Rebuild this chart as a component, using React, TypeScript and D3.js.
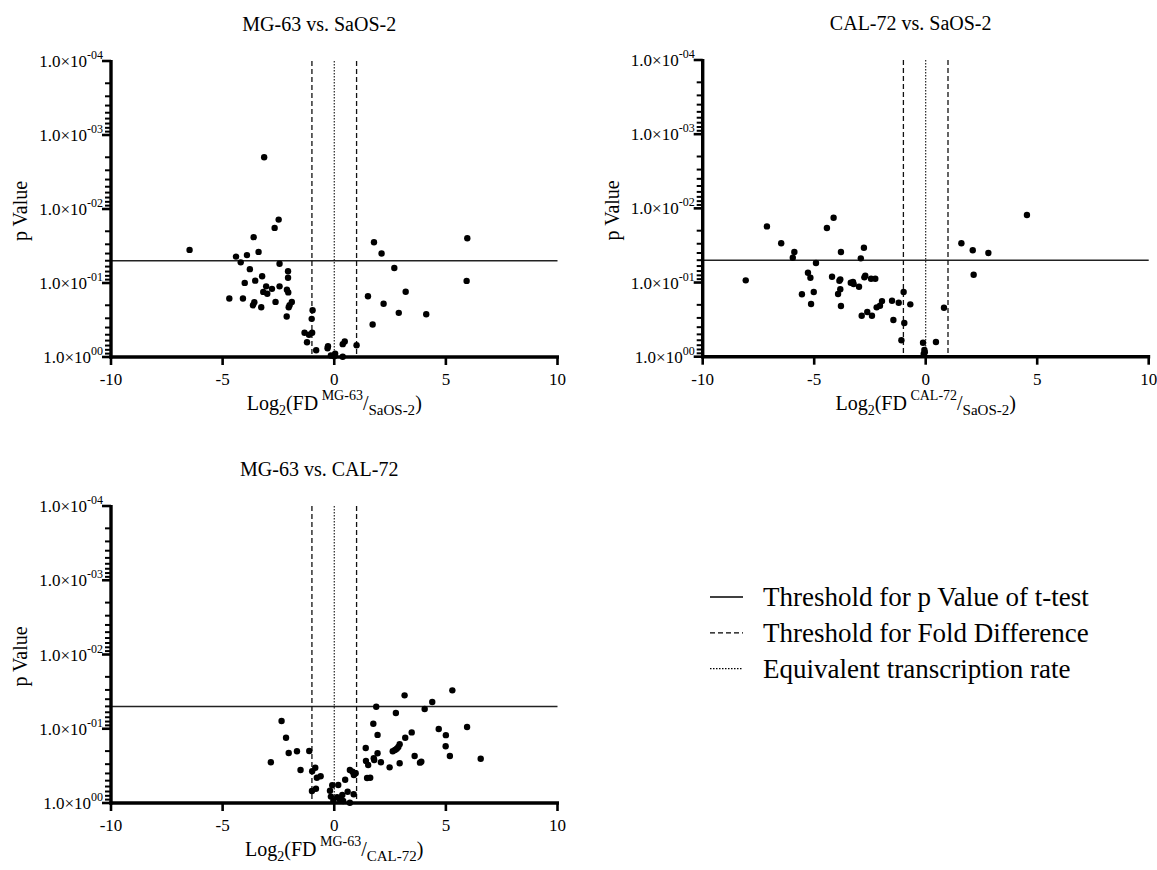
import React from "react";
import * as d3 from "d3";

// ---------- DATA (log2 fold difference, p value) ----------
const mgSaosFD = [
  -3.14, -2.49, -2.67, -3.61, -6.48, -3.39, -4.4, -3.91, -4.19, -2.45, -3.78, -2.07, -2.07, -3.23, -3.54,
  -4.01, -3.05, -2.45, -2.79, -2.12, -3.18, -3.0, -2.06, -4.7, -4.09, -2.63, -3.58, -1.9, -2.0, -3.64,
  -3.27, -2.04, -2.13, -0.97, -1.01, -1.33, -1.13, -0.99, -1.22, -0.81, -0.28, -0.3, 0.04, -0.15, 0.38,
  0.38, 0.47, 1.0, 0.0, 1.78, 2.12, 5.96, 2.69, 5.93, 3.2, 1.51, 2.21, 2.89, 4.12, 1.72,
];
const mgSaosP = [
  0.002, 0.0139, 0.018, 0.024, 0.0357, 0.038, 0.044, 0.042, 0.0526, 0.055, 0.065, 0.0695, 0.085, 0.081, 0.093,
  0.0997, 0.111, 0.111, 0.12, 0.123, 0.132, 0.14, 0.134, 0.162, 0.162, 0.18, 0.182, 0.18, 0.2, 0.2,
  0.213, 0.213, 0.284, 0.233, 0.305, 0.471, 0.501, 0.471, 0.631, 0.81, 0.715, 0.76, 0.9, 0.955, 0.99,
  0.67, 0.618, 0.693, 0.975, 0.0282, 0.04, 0.0249, 0.0626, 0.0937, 0.131, 0.151, 0.191, 0.253, 0.264, 0.364,
];

const calSaosFD = [
  -8.07, -7.12, -6.48, -5.89, -5.96, -4.92, -5.28, -5.17, -5.55, -5.02, -5.14, -4.43, -4.13, -3.8, -4.2,
  -3.87, -3.83, -3.83, -3.93, -3.8, -3.36, -3.26, -3.23, -2.99, -2.77, -2.91, -2.75, -2.71, -2.45, -2.26,
  -2.87, -2.62, -2.41, -2.2, -2.05, -1.96, -1.51, -1.45, -1.21, -0.99, -0.96, -1.09, -0.69, -0.12, -0.06,
  -0.04, -0.09, 0.46, 0.82, 1.6, 2.11, 2.15, 2.81, 4.54,
];
const calSaosP = [
  0.0934, 0.0175, 0.0296, 0.0388, 0.0463, 0.0546, 0.0738, 0.0861, 0.144, 0.134, 0.195, 0.0184, 0.0134, 0.0388, 0.0835,
  0.0946, 0.0906, 0.123, 0.143, 0.207, 0.1006, 0.098, 0.105, 0.114, 0.034, 0.0472, 0.0851, 0.081, 0.0889, 0.0889,
  0.28, 0.25, 0.28, 0.216, 0.206, 0.178, 0.176, 0.32, 0.187, 0.134, 0.351, 0.601, 0.197, 0.648, 0.81,
  0.873, 0.92, 0.634, 0.219, 0.0296, 0.0368, 0.0785, 0.04, 0.0123,
];

const mgCalFD = [
  -2.84, -2.36, -2.16, -2.04, -1.67, -1.51, -1.12, -0.99, -0.85, -0.78, -0.61, -1.0, -0.82, -0.19, -0.09,
  0.18, 0.49, 0.6, 0.7, 0.87, 0.13, 0.26, 0.36, 0.4, -0.15, -0.04, 0.7, 0.82, 0.96, 0.88,
  1.41, 1.42, 1.52, 1.47, 1.61, 1.75, 1.77, 1.79, 1.88, 1.94, 1.94, 2.09, 2.48, 2.62, 2.72,
  2.8, 2.87, 2.93, 2.76, 2.93, 3.15, 3.18, 3.47, 3.6, 3.9, 3.84, 4.05, 4.39, 4.68, 5.0,
  4.99, 5.18, 5.29, 5.95, 6.56,
];
const mgCalP = [
  0.283, 0.0787, 0.132, 0.212, 0.201, 0.36, 0.199, 0.374, 0.335, 0.456, 0.437, 0.689, 0.642, 0.683, 0.578,
  0.572, 0.486, 0.705, 0.99, 0.763, 0.838, 0.91, 0.78, 0.94, 0.82, 0.94, 0.36, 0.379, 0.398, 0.42,
  0.182, 0.272, 0.308, 0.461, 0.456, 0.0855, 0.25, 0.264, 0.0505, 0.121, 0.214, 0.283, 0.331, 0.201, 0.193,
  0.186, 0.176, 0.162, 0.0614, 0.292, 0.0355, 0.132, 0.112, 0.233, 0.278, 0.286, 0.0542, 0.0436, 0.101, 0.122,
  0.172, 0.233, 0.0304, 0.0947, 0.253,
];

const xTicks = [-10, -5, 0, 5, 10];
const yMajorExponents = [-4, -3, -2, -1, 0];
const minorMultipliers = [2, 3, 4, 5, 6, 7, 8, 9];
const xDomain = [-10, 10];
const yDomain = [1, 1e-4];
const pThreshold = 0.05;
const foldThreshold = 1;

const legendLabels = [
  "Threshold for p Value of t-test",
  "Threshold for Fold Difference",
  "Equivalent transcription rate",
];

const FONT = "'Liberation Serif', 'Times New Roman', Times, serif";

type PanelProps = {
  title: string;
  sup: string;
  sub: string;
  fd: number[];
  p: number[];
  x0: number;
  x1: number;
  yTop: number;
  yBot: number;
};

function supLabel(e: number) {
  return e === 0 ? "00" : "-0" + Math.abs(e);
}

function Panel({ title, sup, sub, fd, p, x0, x1, yTop, yBot }: PanelProps) {
  const x = d3.scaleLinear().domain(xDomain).range([x0, x1]);
  const y = d3.scaleLog().domain(yDomain).range([yBot, yTop]);
  const minor: number[] = [];
  yMajorExponents.slice(0, -1).forEach((e) => minorMultipliers.forEach((m) => minor.push(m * Math.pow(10, e))));
  const cx = (x0 + x1) / 2;
  return (
    <g>
      <text x={cx - 15} y={yTop - 30} textAnchor="middle" fontSize={20} fontFamily={FONT}>
        {title}
      </text>
      <line x1={x(-10)} x2={x(10)} y1={y(pThreshold)} y2={y(pThreshold)} stroke="#222" strokeWidth={1.5} />
      {[-foldThreshold, foldThreshold].map((f) => (
        <line key={f} x1={x(f)} x2={x(f)} y1={y(1e-4)} y2={y(1)} stroke="#111" strokeWidth={1.3} strokeDasharray="5,3" />
      ))}
      <line x1={x(0)} x2={x(0)} y1={y(1e-4)} y2={y(1)} stroke="#111" strokeWidth={1.1} strokeDasharray="1.5,1.5" />
      {fd.map((v, i) => (
        <circle key={i} cx={x(v)} cy={y(p[i])} r={3.2} fill="#000" />
      ))}
      {yMajorExponents.map((e) => (
        <text key={"l" + e} x={x0 - 8} y={y(Math.pow(10, e)) + 6} textAnchor="end" fontSize={17} fontFamily={FONT}>
          1.0×10
          <tspan fontSize={12} dy={-8}>
            {supLabel(e)}
          </tspan>
        </text>
      ))}
      <line x1={x0} x2={x0} y1={yTop - 1} y2={yBot + 1.5} stroke="#000" strokeWidth={3.4} />
      {minor.map((v, i) => (
        <line key={"m" + i} x1={x0} x2={x0 - 6} y1={y(v)} y2={y(v)} stroke="#000" strokeWidth={2} />
      ))}
      {yMajorExponents.map((e) => (
        <line key={"t" + e} x1={x0} x2={x0 - 9} y1={y(Math.pow(10, e))} y2={y(Math.pow(10, e))} stroke="#000" strokeWidth={2.6} />
      ))}
      <line x1={x0 - 1.7} x2={x1 + 1.5} y1={yBot} y2={yBot} stroke="#000" strokeWidth={3.4} />
      {xTicks.map((t) => (
        <g key={t}>
          <line x1={x(t)} x2={x(t)} y1={yBot} y2={yBot + 8} stroke="#000" strokeWidth={2.6} />
          <text x={x(t)} y={yBot + 28} textAnchor="middle" fontSize={17} fontFamily={FONT}>
            {t}
          </text>
        </g>
      ))}
      <text
        transform={`translate(${x0 - 84},${(yTop + yBot) / 2 + 2}) rotate(-90)`}
        textAnchor="middle"
        fontSize={20}
        fontFamily={FONT}
      >
        p Value
      </text>
      <text x={cx} y={yBot + 53} textAnchor="middle" fontSize={20} fontFamily={FONT}>
        Log
        <tspan fontSize={14} dy={5}>2</tspan>
        <tspan dy={-5}>(FD</tspan>
        <tspan fontSize={14} dy={-10}>{" " + sup}</tspan>
        <tspan dy={10}>/</tspan>
        <tspan fontSize={15} dy={5}>{sub}</tspan>
        <tspan dy={-5}>)</tspan>
      </text>
    </g>
  );
}

export default function App() {
  const legendDash = [null, "5,3", "1.5,1.5"];
  return (
    <svg
      width={1157}
      height={870}
      style={{ position: "absolute", left: 0, top: 0, display: "block", background: "#fff" }}
    >
      <rect width={1157} height={870} fill="#fff" />
      <Panel title="MG-63 vs. SaOS-2" sup="MG-63" sub="SaOS-2" fd={mgSaosFD} p={mgSaosP} x0={111} x1={557.5} yTop={61} yBot={357} />
      <Panel title="CAL-72 vs. SaOS-2" sup="CAL-72" sub="SaOS-2" fd={calSaosFD} p={calSaosP} x0={702.7} x1={1148.7} yTop={60} yBot={356.7} />
      <Panel title="MG-63 vs. CAL-72" sup="MG-63" sub="CAL-72" fd={mgCalFD} p={mgCalP} x0={111} x1={557.5} yTop={506} yBot={803} />
      {legendLabels.map((l, i) => (
        <g key={l}>
          <line
            x1={710}
            x2={743}
            y1={597 + i * 35.8}
            y2={597 + i * 35.8}
            stroke="#000"
            strokeWidth={legendDash[i] === "1.5,1.5" ? 1.1 : 1.3}
            strokeDasharray={legendDash[i] || undefined}
          />
          <text x={763} y={606 + i * 35.8} fontSize={27} fontFamily={FONT}>
            {l}
          </text>
        </g>
      ))}
    </svg>
  );
}
